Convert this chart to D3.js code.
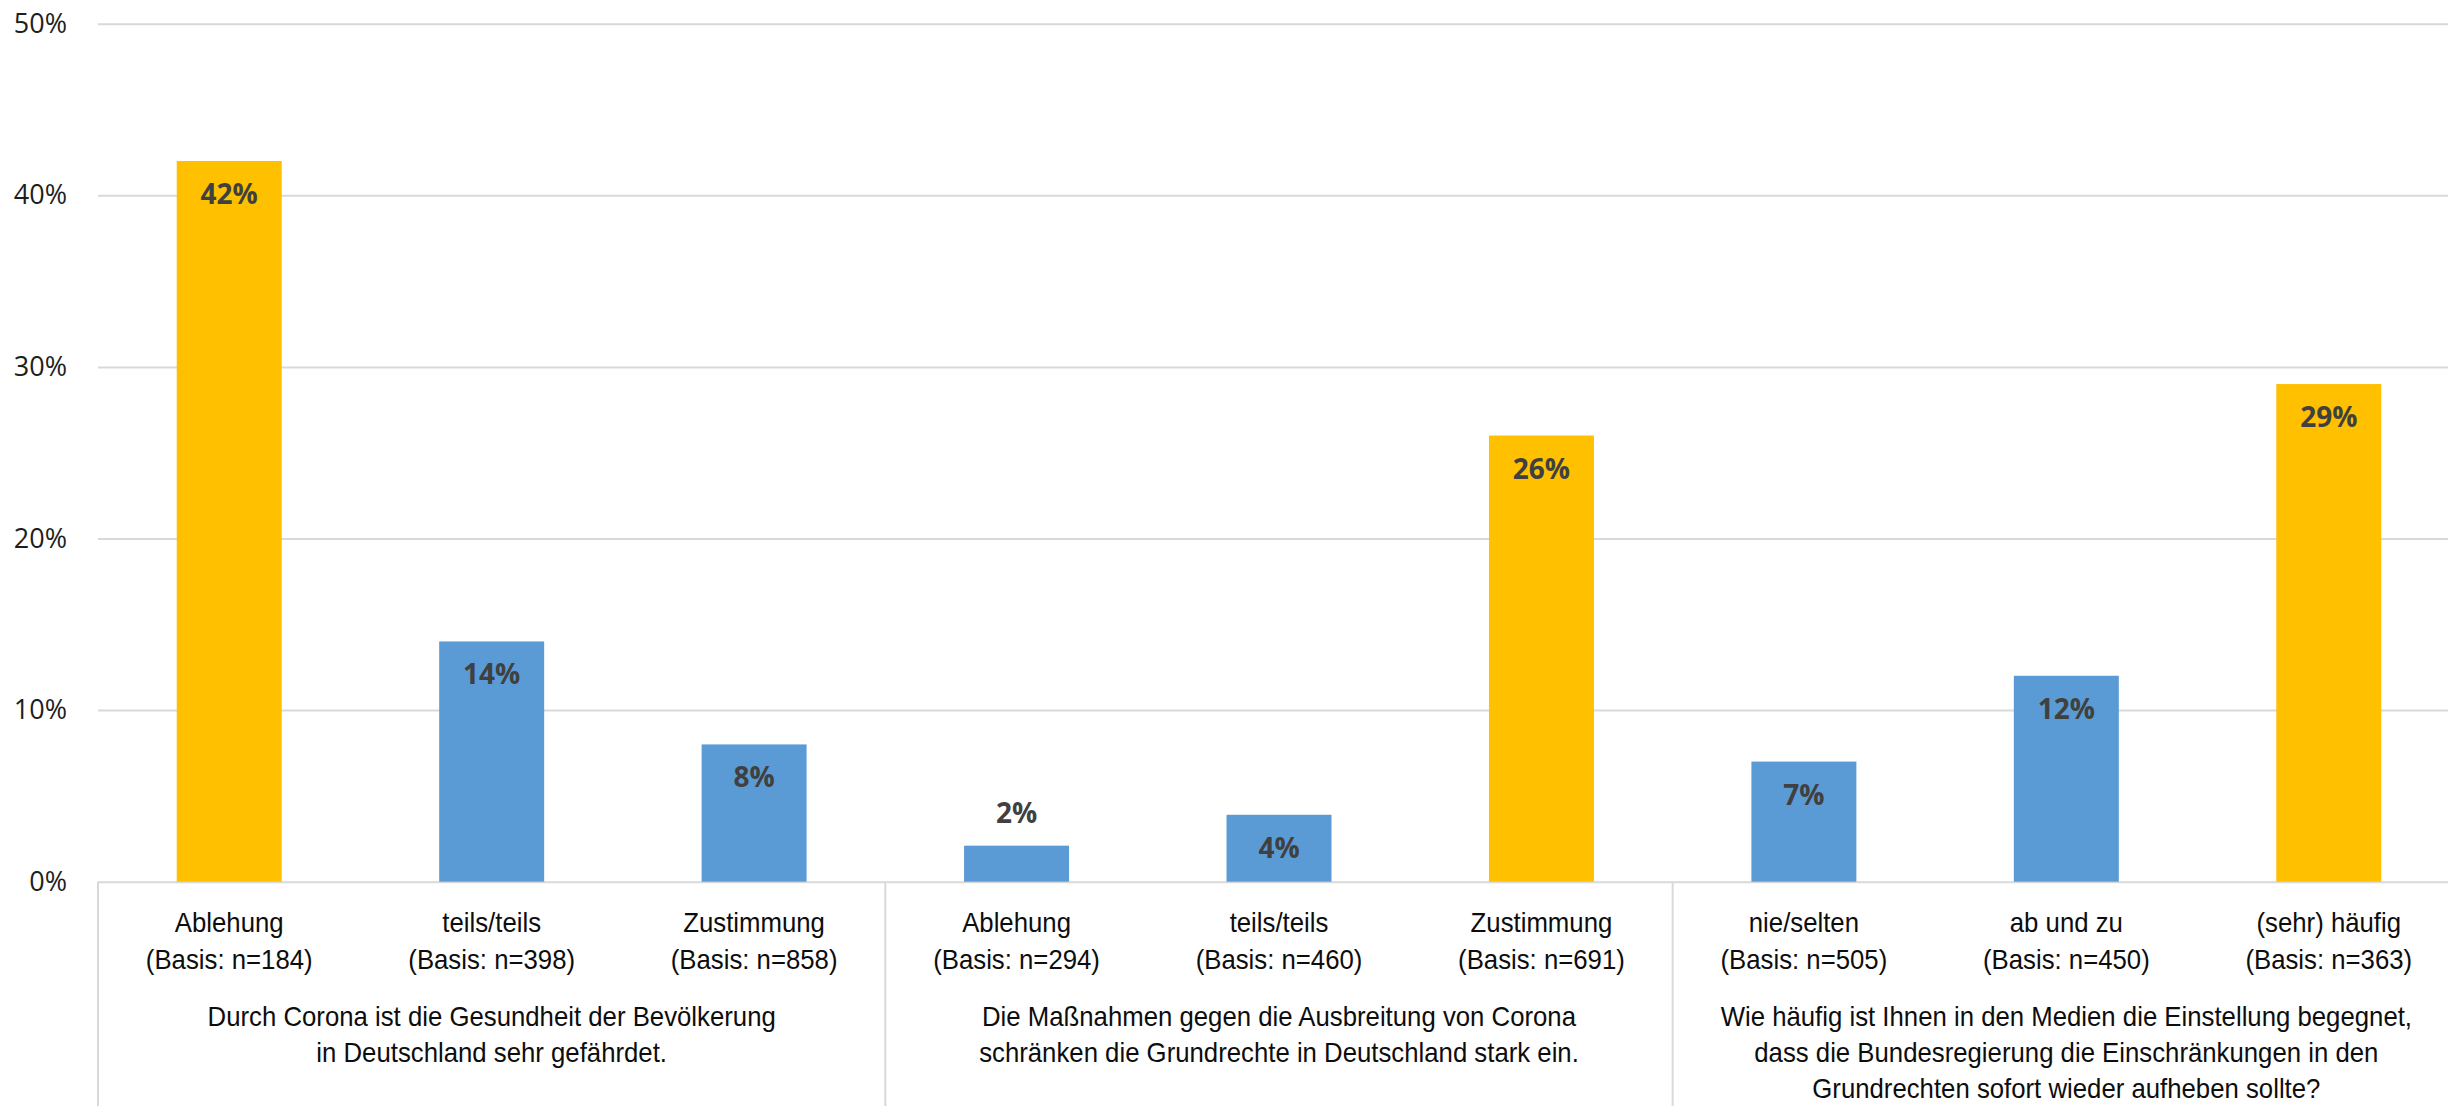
<!DOCTYPE html>
<html>
<head>
<meta charset="utf-8">
<script src="https://cdn.jsdelivr.net/npm/d3@7"></script>
<style>
    body { margin: 0; background: #fff; }
    svg { display: block; }
</style>
</head>
<body>
<svg id="drawing_region"></svg>
<script>
// answers per bar, three statements with three answer groups each
const categories = ["Ablehung", "teils/teils", "Zustimmung",
                    "Ablehung", "teils/teils", "Zustimmung",
                    "nie/selten", "ab und zu", "(sehr) häufig"];
const bases = [184, 398, 858, 294, 460, 691, 505, 450, 363];
const values = [42, 14, 8, 2.1, 3.9, 26, 7, 12, 29];
const highlighted = [true, false, false, false, false, true, false, false, true];

const statements = [
    ["Durch Corona ist die Gesundheit der Bevölkerung", "in Deutschland sehr gefährdet."],
    ["Die Maßnahmen gegen die Ausbreitung von Corona", "schränken die Grundrechte in Deutschland stark ein."],
    ["Wie häufig ist Ihnen in den Medien die Einstellung begegnet,", "dass die Bundesregierung die Einschränkungen in den", "Grundrechten sofort wieder aufheben sollte?"]
];

const yticks = [0, 10, 20, 30, 40, 50];

class BarChart {

    constructor( config, data ) {
        this.config = {
            parent: config.parent,
            width: config.width || 256,
            height: config.height || 256,
            margin: config.margin || {top:10, right:10, bottom:10, left:10},
        }
        this.data = data;
        this.init();
    }

    init() {
        let self = this;

        self.svg = d3.select( self.config.parent )
            .attr('width', self.config.width)
            .attr('height', self.config.height);

        self.inner_width = self.config.width - self.config.margin.left - self.config.margin.right;
        self.inner_height = self.config.height - self.config.margin.top - self.config.margin.bottom;

        // the plot runs a bit past the right border, as in the original
        self.xscale = d3.scaleBand()
            .range( [self.config.margin.left, self.config.margin.left + self.inner_width] )
            .paddingInner(0.6)
            .paddingOuter(0.3);

        self.yscale = d3.scaleLinear()
            .range( [self.config.margin.top + self.inner_height, self.config.margin.top] );

        self.yaxis = d3.axisLeft( self.yscale )
            .tickValues( yticks )
            .tickFormat( d => d + "%" )
            .tickSizeInner( -(self.config.width - self.config.margin.left) )
            .tickSizeOuter(0)
            .tickPadding(31);

        self.yaxis_group = self.svg.append('g')
            .attr('transform', `translate(${self.config.margin.left}, 0)`);

        self.chart = self.svg.append('g');
        self.labels = self.svg.append('g');
    }

    update() {
        let self = this;
        self.xscale.domain( self.data.map( (d, i) => i ) );
        self.yscale.domain( [0, d3.max(yticks)] );
        self.render();
    }

    render() {
        let self = this;
        const x = self.xscale;
        const y = self.yscale;
        const y0 = y(0);

        self.yaxis_group.call( self.yaxis );
        self.yaxis_group.select('.domain').remove();
        self.yaxis_group.selectAll('.tick line')
            .attr('stroke', '#d9d9d9')
            .attr('stroke-width', 2);
        self.yaxis_group.selectAll('.tick text')
            .attr('font-family', '"Open Sans", sans-serif')
            .attr('font-size', '27px')
            .attr('fill', '#1e1e1e');

        self.chart.selectAll('rect')
            .data(self.data)
            .join('rect')
            .attr('x', (d, i) => x(i))
            .attr('y', d => y(d.value))
            .attr('width', x.bandwidth())
            .attr('height', d => y0 - y(d.value))
            .attr('fill', d => d.highlight ? '#ffc000' : '#5b9bd5');

        // value labels, inside the bar top or above it when the bar is too short
        self.chart.selectAll('text.value')
            .data(self.data)
            .join('text')
            .attr('class', 'value')
            .attr('x', (d, i) => x(i) + x.bandwidth()/2)
            .attr('y', d => (y0 - y(d.value) > 55) ? y(d.value) + 43 : y(d.value) - 23)
            .attr('text-anchor', 'middle')
            .attr('font-family', '"Open Sans", sans-serif')
            .attr('font-weight', 'bold')
            .attr('font-size', '28px')
            .attr('fill', '#404040')
            .text(d => Math.round(d.value) + "%");

        // separators between the three statements
        const step = x.step();
        const gap = step - x.bandwidth();
        const bounds = statements.map( (s, k) => x(k*3) - gap/2 );
        self.labels.selectAll('line.sep')
            .data(bounds)
            .join('line')
            .attr('class', 'sep')
            .attr('x1', d => d).attr('x2', d => d)
            .attr('y1', y0).attr('y2', self.config.height)
            .attr('stroke', '#d9d9d9')
            .attr('stroke-width', 2);

        // no narrow font installed, so squeeze the regular one a little
        const font = '"Liberation Sans", Arial, sans-serif';
        const squeeze = 0.92;

        const cat = self.labels.selectAll('g.cat')
            .data(self.data)
            .join('g')
            .attr('class', 'cat')
            .attr('transform', (d, i) => `translate(${x(i) + x.bandwidth()/2}, 0) scale(${squeeze}, 1)`)
            .append('text')
            .attr('text-anchor', 'middle')
            .attr('font-family', font)
            .attr('font-size', '28px')
            .attr('fill', '#0d0d0d');
        cat.append('tspan')
            .attr('x', 0)
            .attr('y', y0 + 50)
            .text(d => d.category);
        cat.append('tspan')
            .attr('x', 0)
            .attr('y', y0 + 87)
            .text(d => `(Basis: n=${d.base})`);

        const grp = self.labels.selectAll('g.grp')
            .data(statements)
            .join('g')
            .attr('class', 'grp')
            .attr('transform', (lines, k) => `translate(${bounds[k] + step*1.5}, 0) scale(${squeeze}, 1)`)
            .append('text')
            .attr('text-anchor', 'middle')
            .attr('font-family', font)
            .attr('font-size', '28px')
            .attr('fill', '#0d0d0d');
        grp.selectAll('tspan')
            .data(lines => lines)
            .join('tspan')
            .attr('x', 0)
            .attr('y', (l, j) => y0 + 144 + j*36)
            .text(l => l);
    }
}

const data = categories.map( (c, i) => ({
    category: c,
    base: bases[i],
    value: values[i],
    highlight: highlighted[i]
}));

const config = {
    parent: '#drawing_region',
    width: 2448,
    height: 1106,
    margin: {top: 23.7, right: -12, bottom: 224.3, left: 98},
};

const bar_chart = new BarChart( config, data );
bar_chart.update();
</script>
</body>
</html>
